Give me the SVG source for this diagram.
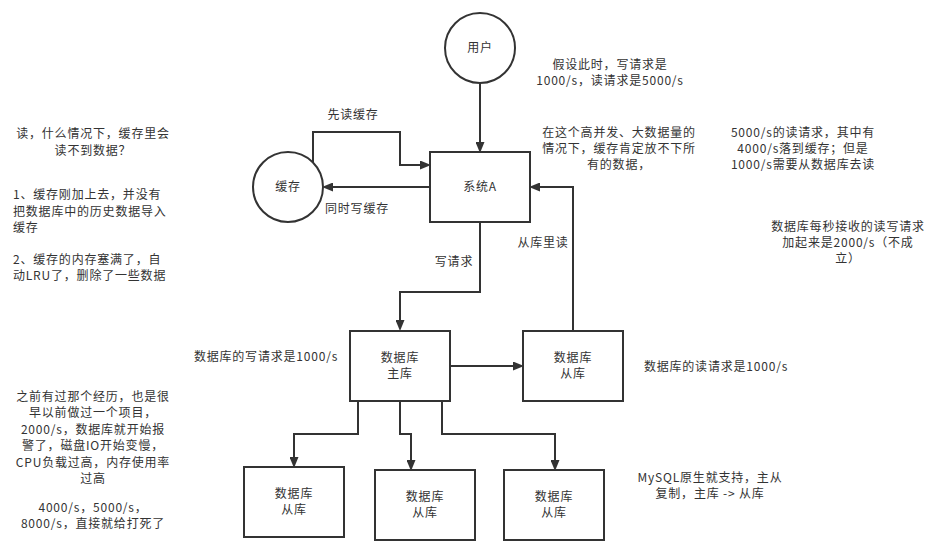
<svg xmlns="http://www.w3.org/2000/svg" width="940" height="545" viewBox="0 0 940 545">
<style>
text{font-family:"Noto Sans CJK SC","Liberation Sans",sans-serif;font-size:12px;letter-spacing:0.8px;fill:#333;}
.c{text-anchor:middle;}
.node{fill:#fff;stroke:#333;stroke-width:2;}
.edge{fill:none;stroke:#333;stroke-width:2;}
</style>
<defs>
<marker id="arr" markerUnits="userSpaceOnUse" markerWidth="11" markerHeight="9" refX="7" refY="4.5" orient="auto">
<path d="M0,0 L11,4.5 L0,9 Z" fill="#333"/>
</marker>
</defs>
<rect width="940" height="545" fill="#fff"/>
<g id="connectors">
<path class="edge" d="M480,83 V149" marker-end="url(#arr)"/>
<path class="edge" d="M313,162 V132 H400 V165 H427" marker-end="url(#arr)"/>
<path class="edge" d="M430,187 H326" marker-end="url(#arr)"/>
<path class="edge" d="M480,222 V292 H400 V327" marker-end="url(#arr)"/>
<path class="edge" d="M573,331 V187 H533" marker-end="url(#arr)"/>
<path class="edge" d="M450,366 H520" marker-end="url(#arr)"/>
<path class="edge" d="M358,401 V434 H294 V464" marker-end="url(#arr)"/>
<path class="edge" d="M400,401 V434 H411 V467" marker-end="url(#arr)"/>
<path class="edge" d="M442,401 V434 H555 V467" marker-end="url(#arr)"/>
<text class="c" x="353" y="119">先读缓存</text>
<text class="c" x="357" y="213">同时写缓存</text>
<text class="c" x="454" y="266">写请求</text>
<text class="c" x="543" y="247">从库里读</text>
</g>
<g id="user"><circle class="node" cx="480" cy="48" r="35"/><text class="c" x="480" y="52">用户</text></g>
<g id="cache"><circle class="node" cx="288" cy="187" r="35"/><text class="c" x="288" y="191">缓存</text></g>
<g id="systemA"><rect class="node" x="430" y="152" width="100" height="70"/><text class="c" x="480" y="191">系统A</text></g>
<g id="master"><rect class="node" x="350" y="331" width="100" height="70"/><text class="c" x="400" y="362">数据库</text><text class="c" x="400" y="378">主库</text></g>
<g id="slave0"><rect class="node" x="523" y="331" width="100" height="70"/><text class="c" x="573" y="362">数据库</text><text class="c" x="573" y="378">从库</text></g>
<g id="slave1"><rect class="node" x="244" y="467" width="100" height="70"/><text class="c" x="294" y="498">数据库</text><text class="c" x="294" y="514">从库</text></g>
<g id="slave2"><rect class="node" x="375" y="470" width="100" height="70"/><text class="c" x="425" y="501">数据库</text><text class="c" x="425" y="517">从库</text></g>
<g id="slave3"><rect class="node" x="504" y="470" width="100" height="70"/><text class="c" x="554" y="501">数据库</text><text class="c" x="554" y="517">从库</text></g>
<g id="notes">
<text class="c" x="610" y="69">假设此时，写请求是</text>
<text class="c" x="610" y="85">1000/s，读请求是5000/s</text>
<text class="c" x="619" y="137">在这个高并发、大数据量的</text>
<text class="c" x="619" y="153">情况下，缓存肯定放不下所</text>
<text class="c" x="619" y="169">有的数据，</text>
<text class="c" x="803" y="137">5000/s的读请求，其中有</text>
<text class="c" x="803" y="153">4000/s落到缓存；但是</text>
<text class="c" x="803" y="169">1000/s需要从数据库去读</text>
<text class="c" x="848" y="231">数据库每秒接收的读写请求</text>
<text class="c" x="848" y="247">加起来是2000/s（不成</text>
<text class="c" x="848" y="263">立）</text>
<text class="c" x="93" y="138">读，什么情况下，缓存里会</text>
<text class="c" x="93" y="155">读不到数据？</text>
<text x="13" y="199">1、缓存刚加上去，并没有</text>
<text x="13" y="216">把数据库中的历史数据导入</text>
<text x="13" y="232">缓存</text>
<text x="13" y="264">2、缓存的内存塞满了，自</text>
<text x="13" y="280">动LRU了，删除了一些数据</text>
<text class="c" x="266" y="361">数据库的写请求是1000/s</text>
<text class="c" x="716" y="371">数据库的读请求是1000/s</text>
<text class="c" x="93" y="401">之前有过那个经历，也是很</text>
<text class="c" x="93" y="417">早以前做过一个项目，</text>
<text class="c" x="93" y="434">2000/s，数据库就开始报</text>
<text class="c" x="93" y="450">警了，磁盘IO开始变慢，</text>
<text class="c" x="93" y="467">CPU负载过高，内存使用率</text>
<text class="c" x="93" y="483">过高</text>
<text class="c" x="93" y="512">4000/s，5000/s，</text>
<text class="c" x="93" y="528">8000/s，直接就给打死了</text>
<text class="c" x="710" y="482">MySQL原生就支持，主从</text>
<text class="c" x="710" y="498">复制，主库 -&gt; 从库</text>
</g>
</svg>
